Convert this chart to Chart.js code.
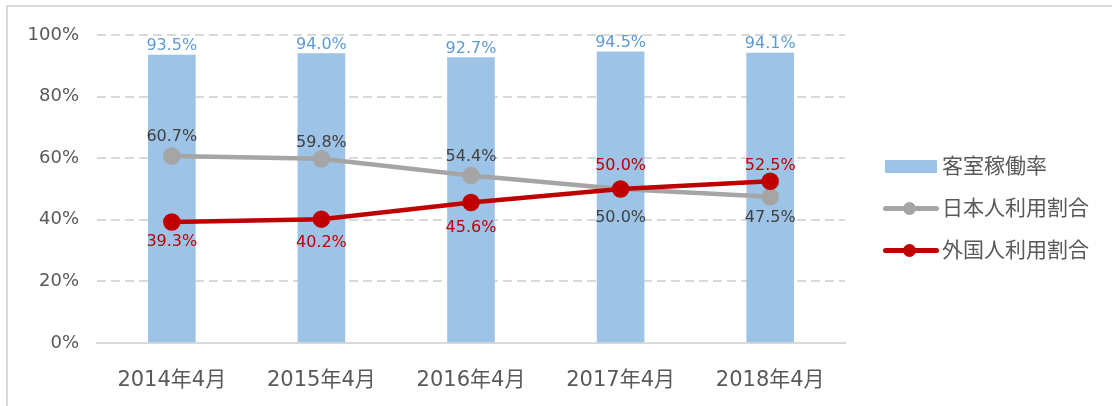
<!DOCTYPE html>
<html><head><meta charset="utf-8">
<script src="https://cdn.jsdelivr.net/npm/chart.js@4"></script>
<style>
html,body{margin:0;padding:0;background:#fff;}
#wrap{position:relative;width:1112px;height:406px;overflow:hidden;}
#frame{position:absolute;left:6px;top:5px;width:1200px;height:500px;border:2px solid #d9d9d9;box-sizing:border-box;}
canvas{position:absolute;left:0;top:0;}
#legend{position:absolute;left:883px;top:148px;font-family:"DejaVu Sans","Noto Sans CJK JP",sans-serif;font-size:21px;color:#595959;}
.li{position:relative;height:42px;line-height:36px;padding-left:59px;white-space:nowrap;}
.sw{position:absolute;left:2px;top:12px;width:52px;height:13px;background:#9DC3E6;}
.ln{position:absolute;left:0;top:16px;width:56px;height:5px;border-radius:3px;}
.dt{position:absolute;left:20px;top:12px;width:13px;height:13px;border-radius:50%;}
</style></head>
<body><div id="wrap"><div id="frame"></div><canvas id="c" width="1112" height="406"></canvas>
<div id="legend"></div></div>
<script>
const categories = ["2014年4月","2015年4月","2016年4月","2017年4月","2018年4月"];
const occupancy = [93.5, 94.0, 92.7, 94.5, 94.1];
const japanese = [60.7, 59.8, 54.4, 50.0, 47.5];
const foreign = [39.3, 40.2, 45.6, 50.0, 52.5];
const yTicks = [0, 20, 40, 60, 80, 100];
const seriesNames = ["客室稼働率", "日本人利用割合", "外国人利用割合"];

// label offsets (px, style only)
const barLabelOff = [-9,-9,-9,-9,-9];
const jpLabelOff = [-19,-16,-19,29,21];
const frLabelOff = [20,24,25,-23,-15];

const FONT = '"DejaVu Sans","Noto Sans CJK JP",sans-serif';
const COL_BAR = '#9DC3E6', COL_JP = '#A5A5A5', COL_FR = '#C00000';

const labelPlugin = {
  id: 'labels',
  afterDatasetsDraw(chart) {
    const ctx = chart.ctx;
    ctx.save();
    ctx.font = '16px ' + FONT;
    ctx.textAlign = 'center';
    ctx.textBaseline = 'middle';
    const specs = [
      {ds:0, data:occupancy, off:barLabelOff, color:'#5B9BD5'},
      {ds:1, data:japanese, off:jpLabelOff, color:'#404040'},
      {ds:2, data:foreign, off:frLabelOff, color:'#C00000'}
    ];
    specs.forEach(s => {
      const meta = chart.getDatasetMeta(s.ds);
      meta.data.forEach((el, i) => {
        ctx.fillStyle = s.color;
        ctx.fillText(s.data[i].toFixed(1) + '%', el.x, el.y + s.off[i]);
      });
    });
    ctx.restore();
  }
};

new Chart(document.getElementById('c'), {
  data: {
    labels: categories,
    datasets: [
      {type:'bar', label:seriesNames[0], data:occupancy, backgroundColor:COL_BAR, barThickness:47, order:3},
      {type:'line', label:seriesNames[1], data:japanese, borderColor:COL_JP, backgroundColor:COL_JP, borderWidth:4.5, pointRadius:6.5, pointHoverRadius:6.5, order:2},
      {type:'line', label:seriesNames[2], data:foreign, borderColor:COL_FR, backgroundColor:COL_FR, borderWidth:4.5, pointRadius:6.5, pointHoverRadius:6.5, order:1}
    ]
  },
  options: {
    responsive:false, animation:false, events:[],
    layout:{padding:{left:0, top:35, right:267, bottom:0}},
    plugins:{legend:{display:false}, tooltip:{enabled:false}},
    scales:{
      x:{
        grid:{display:false},
        border:{display:true, color:'#d9d9d9', width:2},
        ticks:{font:{family:FONT, size:21}, color:'#595959', padding:17},
        afterFit(s){ s.height = 63; }
      },
      y:{
        min:0, max:100,
        afterBuildTicks(s){ s.ticks = yTicks.map(v => ({value:v})); },
        grid:{drawTicks:false, lineWidth:2, color:(c)=> c.tick && c.tick.value===0 ? 'rgba(0,0,0,0)' : '#d9d9d9'},
        border:{display:false, dash:[9,5]},
        ticks:{font:{family:FONT, size:18}, color:'#595959', padding:18, callback:v => v + '%'},
        afterFit(s){ s.width = 97; }
      }
    }
  },
  plugins:[labelPlugin]
});

// legend
const lg = document.getElementById('legend');
const legendDefs = [
  {name:seriesNames[0], kind:'bar', color:COL_BAR},
  {name:seriesNames[1], kind:'line', color:COL_JP},
  {name:seriesNames[2], kind:'line', color:COL_FR}
];
legendDefs.forEach(d => {
  const li = document.createElement('div'); li.className = 'li';
  if (d.kind === 'bar') {
    const sw = document.createElement('span'); sw.className='sw'; sw.style.background=d.color; li.appendChild(sw);
  } else {
    const ln = document.createElement('span'); ln.className='ln'; ln.style.background=d.color; li.appendChild(ln);
    const dt = document.createElement('span'); dt.className='dt'; dt.style.background=d.color; li.appendChild(dt);
  }
  li.appendChild(document.createTextNode(d.name));
  lg.appendChild(li);
});
</script></body></html>
